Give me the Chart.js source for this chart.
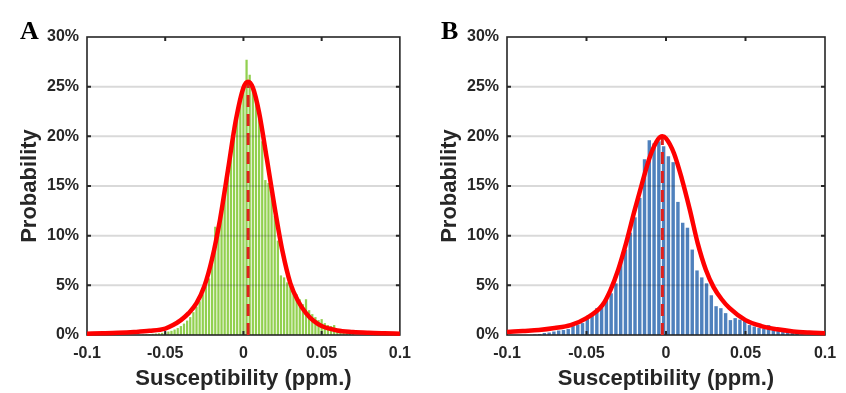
<!DOCTYPE html>
<html>
<head>
<meta charset="utf-8">
<script src="https://cdn.jsdelivr.net/npm/chart.js@4.4.1/dist/chart.umd.min.js"></script>
<style>
  body { margin: 0; background: #fff; width: 846px; height: 393px; overflow: hidden; position: relative; }
  .panel { position: absolute; top: 0; height: 393px; }
  .tag { position: absolute; font: bold 26px/26px "Liberation Serif", "Times New Roman", serif; color: #000; }
</style>
</head>
<body>
<div class="panel" style="left:0;width:420px"><canvas id="chartA"></canvas></div>
<div class="panel" style="left:420px;width:426px"><canvas id="chartB"></canvas></div>
<div class="tag" style="left:20px;top:18px">A</div>
<div class="tag" style="left:441px;top:18px">B</div>
<script>
// axis ticks
const xTickValues = [-0.1, -0.05, 0, 0.05, 0.1];
const yTickValues = [0, 5, 10, 15, 20, 25, 30];
const innerXTicks = [-0.05, 0, 0.05];
const gridLevels = [5, 10, 15, 20, 25];

// panel A histogram (bin centres, ppm / probability %)
const binsA = [-0.064, -0.062, -0.060, -0.058, -0.056, -0.054, -0.052, -0.050, -0.048, -0.046,
  -0.044, -0.042, -0.040, -0.038, -0.036, -0.034, -0.032, -0.030, -0.028, -0.026,
  -0.024, -0.022, -0.020, -0.018, -0.016, -0.014, -0.012, -0.010, -0.008, -0.006,
  -0.004, -0.002, 0.000, 0.002, 0.004, 0.006, 0.008, 0.010, 0.012, 0.014,
  0.016, 0.018, 0.020, 0.022, 0.024, 0.026, 0.028, 0.030, 0.032, 0.034,
  0.036, 0.038, 0.040, 0.042, 0.044, 0.046, 0.048, 0.050, 0.052, 0.054,
  0.056, 0.058, 0.060, 0.062, 0.064, 0.066, 0.068, 0.070];
const probA = [0.05, 0.08, 0.1, 0.12, 0.15, 0.18, 0.22, 0.28, 0.35, 0.42,
  0.55, 0.7, 0.9, 1.15, 1.45, 1.8, 2.3, 2.85, 3.4, 4.1,
  4.9, 5.7, 7.6, 10.9, 11.2, 12.6, 14.4, 16.5, 18.4, 20.5,
  22.3, 23.9, 24.8, 27.7, 26.2, 25.2, 24.0, 21.8, 19.5, 15.6,
  15.3, 14.2, 12.0, 9.5, 6.0, 5.8, 5.3, 5.0, 4.6, 4.1,
  3.6, 3.1, 3.6, 2.5, 2.1, 1.8, 1.5, 1.6, 1.2, 1.0,
  0.9, 1.0, 0.6, 0.45, 0.3, 0.2, 0.12, 0.08];

// panel A fitted curve
const fitXA = [-0.1, -0.09, -0.08, -0.07, -0.06, -0.05, -0.045, -0.04, -0.035, -0.03, -0.025, -0.02,
  -0.015, -0.01, -0.005, 0, 0.003, 0.006, 0.01, 0.015, 0.02, 0.025, 0.03, 0.035, 0.04, 0.045,
  0.05, 0.06, 0.07, 0.08, 0.09, 0.1];
const fitYA = [0.13, 0.17, 0.22, 0.3, 0.42, 0.65, 1.0, 1.5, 2.2, 3.2, 4.9, 7.7,
  11.6, 16.5, 21.5, 24.9, 25.5, 24.9, 22.4, 17.7, 12.8, 8.4, 5.2, 3.4, 2.2, 1.4,
  0.9, 0.45, 0.3, 0.22, 0.17, 0.13];
const peakA = [0.003, 25.5];

// panel B histogram
const binsB = [-0.0825, -0.0795, -0.0765, -0.0735, -0.0705, -0.0675, -0.0645, -0.0615, -0.0585, -0.0555,
  -0.0525, -0.0495, -0.0465, -0.0435, -0.0405, -0.0375, -0.0345, -0.0315, -0.0285, -0.0255,
  -0.0225, -0.0195, -0.0165, -0.0135, -0.0105, -0.0075, -0.0045, -0.0015, 0.0015, 0.0045,
  0.0075, 0.0105, 0.0135, 0.0165, 0.0195, 0.0225, 0.0255, 0.0285, 0.0315, 0.0345,
  0.0375, 0.0405, 0.0435, 0.0465, 0.0495, 0.0525, 0.0555, 0.0585, 0.0615, 0.0645,
  0.0675, 0.0705, 0.0735, 0.0765, 0.0795, 0.0825, 0.0855];
const probB = [0.05, 0.1, 0.2, 0.25, 0.35, 0.45, 0.5, 0.6, 0.9, 1.05,
  1.2, 1.7, 2.0, 2.7, 2.8, 3.7, 4.2, 5.2, 7.4, 8.6,
  10.3, 11.85, 13.8, 17.7, 19.6, 19.3, 19.5, 19.0, 18.0, 17.4,
  13.4, 11.3, 10.8, 8.6, 6.5, 5.8, 5.2, 4.0, 2.9, 2.7,
  2.2, 1.5, 1.7, 1.55, 1.6, 1.0, 0.85, 0.7, 0.65, 1.0,
  0.8, 0.7, 0.5, 0.35, 0.2, 0.1, 0.05];

// panel B fitted curve
const fitXB = [-0.1, -0.09, -0.08, -0.07, -0.06, -0.05, -0.04, -0.035, -0.03, -0.025, -0.02, -0.015,
  -0.01, -0.005, -0.0023, 0, 0.005, 0.01, 0.015, 0.02, 0.025, 0.03, 0.035, 0.04, 0.05,
  0.06, 0.07, 0.08, 0.09, 0.1];
const fitYB = [0.3, 0.4, 0.5, 0.7, 1.0, 1.7, 3.0, 4.5, 6.6, 9.3, 12.4, 15.3,
  18.0, 19.7, 20.0, 19.8, 18.3, 15.7, 12.6, 9.2, 6.6, 4.8, 3.6, 2.7, 1.5,
  0.9, 0.57, 0.36, 0.25, 0.18];
const peakB = [-0.0023, 20.0];

Chart.defaults.font.family = '"Liberation Sans", Arial, sans-serif';
Chart.defaults.color = '#262626';

// grid over the bars, frame and inward ticks, all below the curves
const frameAndGrid = {
  id: 'frameAndGrid',
  afterDatasetDraw(chart, args) {
    if (args.index !== 0) return;
    const { ctx, chartArea: a, scales: { x, y } } = chart;
    ctx.save();
    ctx.lineWidth = 2;
    ctx.strokeStyle = 'rgba(0,0,0,0.15)';
    gridLevels.forEach(v => {
      const py = y.getPixelForValue(v);
      ctx.beginPath();
      ctx.moveTo(a.left, py);
      ctx.lineTo(a.right, py);
      ctx.stroke();
    });
    ctx.strokeStyle = '#262626';
    ctx.lineWidth = 1.6;
    ctx.strokeRect(a.left, a.top, a.right - a.left, a.bottom - a.top);
    ctx.lineWidth = 2;
    ctx.beginPath();
    gridLevels.forEach(v => {
      const py = y.getPixelForValue(v);
      ctx.moveTo(a.left, py); ctx.lineTo(a.left + 4, py);
      ctx.moveTo(a.right, py); ctx.lineTo(a.right - 4, py);
    });
    innerXTicks.forEach(v => {
      const px = x.getPixelForValue(v);
      ctx.moveTo(px, a.bottom); ctx.lineTo(px, a.bottom - 4);
      ctx.moveTo(px, a.top); ctx.lineTo(px, a.top + 4);
    });
    ctx.stroke();
    ctx.restore();
  }
};

const makeChart = (id, bins, probs, fitX, fitY, peak, barColor, rightPad) => {
  const canvas = document.getElementById(id);
  return new Chart(canvas.getContext('2d'), {
    data: {
      datasets: [
        {
          type: 'bar',
          data: bins.map((b, i) => ({ x: b, y: probs[i] })),
          backgroundColor: barColor,
          borderWidth: 0,
          barPercentage: 0.72,
          categoryPercentage: 1,
          grouped: false,
          order: 3
        },
        {
          type: 'line',
          data: [{ x: peak[0], y: 0 }, { x: peak[0], y: peak[1] }],
          borderColor: '#e0201c',
          borderWidth: 3,
          borderDash: [12, 7],
          pointRadius: 0,
          order: 2
        },
        {
          type: 'line',
          data: fitX.map((v, i) => ({ x: v, y: fitY[i] })),
          borderColor: '#ff0000',
          borderWidth: 4.5,
          pointRadius: 0,
          tension: 0.4,
          cubicInterpolationMode: 'monotone',
          clip: false,
          order: 1
        }
      ]
    },
    options: {
      responsive: true,
      maintainAspectRatio: false,
      animation: false,
      layout: { padding: { top: 37, right: rightPad, left: 0, bottom: 0 } },
      plugins: { legend: { display: false }, tooltip: { enabled: false } },
      scales: {
        x: {
          type: 'linear',
          min: -0.1,
          max: 0.1,
          offset: false,
          afterBuildTicks: s => { s.ticks = xTickValues.map(v => ({ value: v })); },
          afterFit: s => { s.height = 58; },
          ticks: {
            callback: v => String(Math.round(v * 100) / 100),
            font: { size: 16, weight: 'bold' },
            padding: 9,
            maxRotation: 0
          },
          grid: { display: false, drawTicks: false, tickLength: 0, offset: false },
          border: { display: false },
          title: {
            display: true,
            text: 'Susceptibility (ppm.)',
            font: { size: 22, weight: 'bold' },
            padding: { top: 0, bottom: 1 }
          }
        },
        y: {
          min: 0,
          max: 30,
          afterBuildTicks: s => { s.ticks = yTickValues.map(v => ({ value: v })); },
          afterFit: s => { s.width = 87; },
          ticks: {
            callback: v => v + '%',
            font: { size: 16, weight: 'bold' },
            padding: 8
          },
          grid: { display: false, drawTicks: false, tickLength: 0 },
          border: { display: false },
          title: {
            display: true,
            text: 'Probability',
            font: { size: 22, weight: 'bold' },
            padding: { top: 17, bottom: 0 }
          }
        }
      }
    },
    plugins: [frameAndGrid]
  });
};

makeChart('chartA', binsA, probA, fitXA, fitYA, peakA, '#92d050', 15);
makeChart('chartB', binsB, probB, fitXB, fitYB, peakB, '#4f81bd', 21);
</script>
</body>
</html>
